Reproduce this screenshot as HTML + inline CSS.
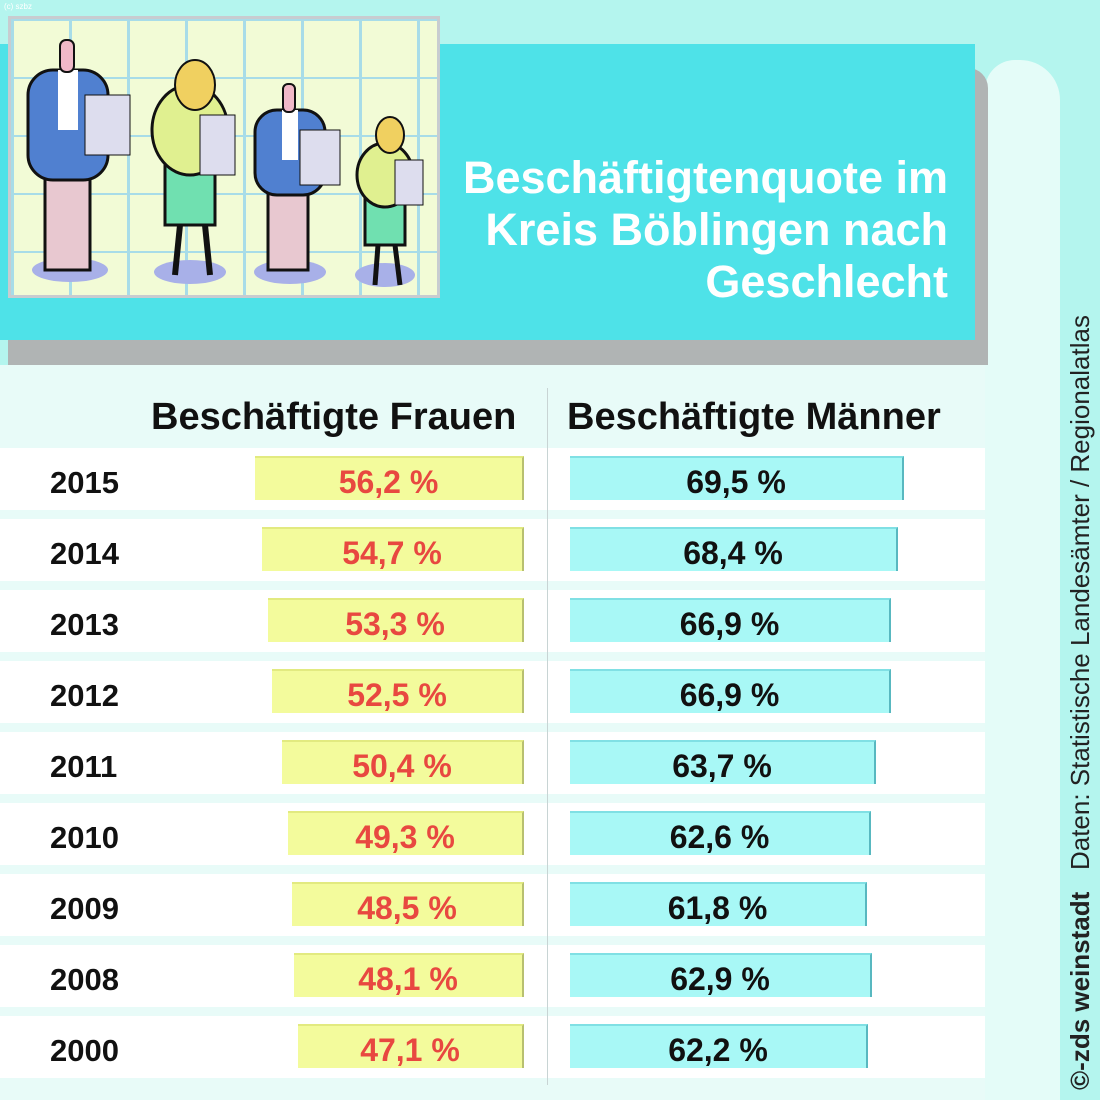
<!DOCTYPE html>
<html><head><meta charset="utf-8"><style>
*{margin:0;padding:0;box-sizing:border-box}
body{width:1100px;height:1100px;position:relative;overflow:hidden;background:#b4f5ee;font-family:"Liberation Sans",sans-serif}
.a{position:absolute}
.row{position:absolute;left:0;width:985px;height:62px;background:#fff}
.yr{position:absolute;left:50px;font-weight:bold;font-size:31px;color:#111}
.bf{position:absolute;height:44px;background:#f3fb9c;border-right:2px solid #b8c070;border-top:2px solid #e2ea80;text-align:center;font-weight:bold;font-size:32px;color:#e84840;line-height:48px}
.bm{position:absolute;left:570px;height:44px;background:#a8f8f6;border-right:2px solid #58b8c0;border-top:2px solid #80e0e4;text-align:center;font-weight:bold;font-size:32px;color:#111;line-height:48px}
</style></head><body>
<div class="a" style="left:985px;top:60px;width:75px;height:1040px;background:#e4fcf8;border-radius:30px 40px 0 0"></div>
<div class="a" style="left:0;top:365px;width:985px;height:735px;background:#e8fbf8"></div>
<div class="a" style="left:8px;top:68px;width:980px;height:297px;background:#b0b4b4;border-radius:0 20px 0 0"></div>
<div class="a" style="left:0;top:44px;width:975px;height:296px;background:#4ee2e8"></div>
<div class="a" style="left:8px;top:16px;width:432px;height:282px;background:#f2fbd6;border:3px solid #c8ccd0;background-image:linear-gradient(#a8dce8 2px,transparent 2px),linear-gradient(90deg,#a8dce8 3px,transparent 3px);background-size:58px 58px"></div>
<svg class="a" style="left:0;top:0" width="450" height="300">
<g><ellipse cx="70" cy="270" rx="38" ry="12" fill="#a8b0e8"/><rect x="45" y="150" width="45" height="120" fill="#e8c8d0" stroke="#111" stroke-width="3"/><rect x="28" y="70" width="80" height="110" rx="25" fill="#5080d0" stroke="#111" stroke-width="3"/><rect x="58" y="70" width="20" height="60" fill="#fff"/><rect x="60" y="40" width="14" height="32" rx="6" fill="#f0b8c8" stroke="#111" stroke-width="2"/><rect x="85" y="95" width="45" height="60" fill="#dde" stroke="#111"/></g>
<g><ellipse cx="190" cy="272" rx="36" ry="12" fill="#a8b0e8"/><rect x="165" y="160" width="50" height="65" fill="#70e0b0" stroke="#111" stroke-width="3"/><ellipse cx="190" cy="130" rx="38" ry="45" fill="#e0f090" stroke="#111" stroke-width="3"/><ellipse cx="195" cy="85" rx="20" ry="25" fill="#f0d060" stroke="#111" stroke-width="2"/><rect x="200" y="115" width="35" height="60" fill="#dde" stroke="#111"/><line x1="180" y1="225" x2="175" y2="275" stroke="#111" stroke-width="6"/><line x1="205" y1="225" x2="210" y2="275" stroke="#111" stroke-width="6"/></g>
<g><ellipse cx="290" cy="272" rx="36" ry="12" fill="#a8b0e8"/><rect x="268" y="180" width="40" height="90" fill="#e8c8d0" stroke="#111" stroke-width="3"/><rect x="255" y="110" width="70" height="85" rx="22" fill="#5080d0" stroke="#111" stroke-width="3"/><rect x="282" y="110" width="16" height="50" fill="#fff"/><rect x="283" y="84" width="12" height="28" rx="5" fill="#f0b8c8" stroke="#111" stroke-width="2"/><rect x="300" y="130" width="40" height="55" fill="#dde" stroke="#111"/></g>
<g><ellipse cx="385" cy="275" rx="30" ry="12" fill="#a8b0e8"/><rect x="365" y="195" width="40" height="50" fill="#70e0b0" stroke="#111" stroke-width="3"/><ellipse cx="385" cy="175" rx="28" ry="32" fill="#e0f090" stroke="#111" stroke-width="3"/><ellipse cx="390" cy="135" rx="14" ry="18" fill="#f0d060" stroke="#111" stroke-width="2"/><rect x="395" y="160" width="28" height="45" fill="#dde" stroke="#111"/><line x1="378" y1="245" x2="375" y2="285" stroke="#111" stroke-width="5"/><line x1="395" y1="245" x2="400" y2="285" stroke="#111" stroke-width="5"/></g>
</svg>
<div class="a" style="right:152px;top:152px;text-align:right;color:#fff;font-weight:bold;font-size:45px;line-height:52px">Beschäftigtenquote im<br>Kreis Böblingen nach<br>Geschlecht</div>
<div class="a" style="left:151px;top:396px;font-weight:bold;font-size:38px;color:#111">Beschäftigte Frauen</div>
<div class="a" style="left:567px;top:396px;font-weight:bold;font-size:38px;color:#111">Beschäftigte Männer</div>

<div class="row" style="top:448px"></div><div class="row" style="top:519px"></div><div class="row" style="top:590px"></div><div class="row" style="top:661px"></div><div class="row" style="top:732px"></div><div class="row" style="top:803px"></div><div class="row" style="top:874px"></div><div class="row" style="top:945px"></div><div class="row" style="top:1016px"></div>
<div class="a" style="left:547px;top:388px;width:1px;height:697px;background:#c8d4d4"></div>

<div class="yr" style="top:465px">2015</div><div class="bf" style="left:255px;width:269px;top:456px">56,2 %</div><div class="bm" style="width:334px;top:456px">69,5 %</div>
<div class="yr" style="top:536px">2014</div><div class="bf" style="left:262px;width:262px;top:527px">54,7 %</div><div class="bm" style="width:328px;top:527px">68,4 %</div>
<div class="yr" style="top:607px">2013</div><div class="bf" style="left:268px;width:256px;top:598px">53,3 %</div><div class="bm" style="width:321px;top:598px">66,9 %</div>
<div class="yr" style="top:678px">2012</div><div class="bf" style="left:272px;width:252px;top:669px">52,5 %</div><div class="bm" style="width:321px;top:669px">66,9 %</div>
<div class="yr" style="top:749px">2011</div><div class="bf" style="left:282px;width:242px;top:740px">50,4 %</div><div class="bm" style="width:306px;top:740px">63,7 %</div>
<div class="yr" style="top:820px">2010</div><div class="bf" style="left:288px;width:236px;top:811px">49,3 %</div><div class="bm" style="width:301px;top:811px">62,6 %</div>
<div class="yr" style="top:891px">2009</div><div class="bf" style="left:292px;width:232px;top:882px">48,5 %</div><div class="bm" style="width:297px;top:882px">61,8 %</div>
<div class="yr" style="top:962px">2008</div><div class="bf" style="left:294px;width:230px;top:953px">48,1 %</div><div class="bm" style="width:302px;top:953px">62,9 %</div>
<div class="yr" style="top:1033px">2000</div><div class="bf" style="left:298px;width:226px;top:1024px">47,1 %</div><div class="bm" style="width:298px;top:1024px">62,2 %</div>

<div class="a" style="left:1080px;top:1090px;transform:rotate(-90deg);transform-origin:0 0;white-space:nowrap;font-size:26px;color:#222;line-height:26px;margin-left:-13px"><b>©-zds weinstadt</b>&nbsp;&nbsp;&nbsp;Daten: Statistische Landesämter / Regionalatlas</div>
<div class="a" style="left:4px;top:2px;font-size:8px;color:#fff">(c) szbz</div>
</body></html>
